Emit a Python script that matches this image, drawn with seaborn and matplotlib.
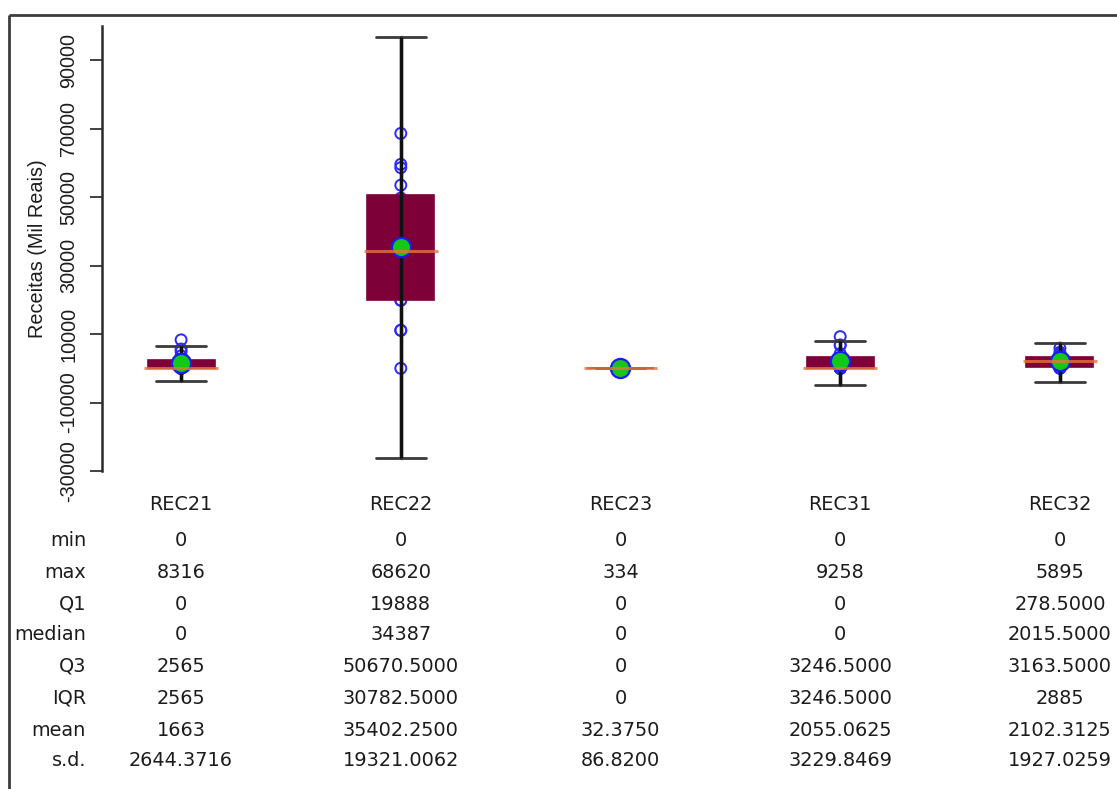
import numpy as np
import pandas as pd
import matplotlib
matplotlib.use("Agg")
import matplotlib.pyplot as plt
import matplotlib.transforms as mtransforms
from matplotlib.lines import Line2D
import seaborn as sns

# ---- data -------------------------------------------------------------
categories = ["REC21", "REC22", "REC23", "REC31", "REC32"]

rec21 = [0, 0, 0, 0, 0, 0, 0, 0, 0, 400, 1500, 2200, 3660, 4900, 5632, 8316]
rec22 = [0, 11100, 11100, 19888, 19888, 25500, 31000, 33800, 34974, 42500,
         46639, 49727, 53500, 58600, 59600, 68620]
rec23 = [0, 0, 0, 0, 0, 0, 0, 0, 0, 0, 0, 0, 0, 66, 118, 334]
rec31 = [0, 0, 0, 0, 0, 0, 0, 0, 0, 900, 2000, 2900, 4286, 6700, 6837, 9258]
rec32 = [0, 0, 60, 100, 338, 1000, 1459, 1900, 2131, 2400, 2800, 3000, 3654,
         4200, 4700, 5895]

stat_min = [0, 0, 0, 0, 0]
stat_max = [8316, 68620, 334, 9258, 5895]
stat_q1 = [0, 19888, 0, 0, 278.5]
stat_median = [0, 34387, 0, 0, 2015.5]
stat_q3 = [2565, 50670.5, 0, 3246.5, 3163.5]
stat_iqr = [2565, 30782.5, 0, 3246.5, 2885]
stat_mean = [1663, 35402.25, 32.375, 2055.0625, 2102.3125]
stat_sd = [2644.3716, 19321.0062, 86.8200, 3229.8469, 1927.0259]

y_ticks = [-30000, -10000, 10000, 30000, 50000, 70000, 90000]
y_label = "Receitas (Mil Reais)"
row_names = ["min", "max", "Q1", "median", "Q3", "IQR", "mean", "s.d."]

# ---- style ------------------------------------------------------------
sns.set_theme(style="white")
plt.rcParams["font.family"] = ["Liberation Sans", "DejaVu Sans"]
FS = 14.3
TFS = 13.9
TABLE_FONT = ["DejaVu Sans"]
TXT = "#1c1c1c"

W, H = 1117, 789
fig = plt.figure(figsize=(W / 100, H / 100), dpi=100)
fig.patch.set_facecolor("white")

# outer frame (top and left edges)
frame_kw = dict(transform=fig.transFigure, color="#3c3c3c", lw=2.0,
                solid_capstyle="butt")
fig.add_artist(Line2D([9 / W, 1.02], [1 - 15 / H, 1 - 15 / H], **frame_kw))
fig.add_artist(Line2D([9 / W, 9 / W], [-0.02, 1 - 15 / H], **frame_kw))

ax = fig.add_axes([102 / W, 1 - 471 / H, 1037 / W, 445 / H])
ax.set_facecolor("white")

positions = np.arange(len(categories))

# individual observations (drawn first, under the boxes)
pts = pd.DataFrame({
    "pos": np.repeat(positions, [len(rec21), len(rec22), len(rec23),
                                 len(rec31), len(rec32)]),
    "value": np.concatenate([rec21, rec22, rec23, rec31, rec32]),
})
sns.scatterplot(data=pts, x="pos", y="value", ax=ax, s=62, color="#2a2aff",
                linewidth=1.4, zorder=1, legend=False)
obs = ax.collections[-1]
obs.set_facecolor("none")
obs.set_edgecolor("#2a2aff")

# boxes from the summary statistics; whiskers at 1.5 * IQR
stats = []
for i, c in enumerate(categories):
    stats.append(dict(label=c, q1=stat_q1[i], med=stat_median[i],
                      q3=stat_q3[i],
                      whislo=stat_q1[i] - 1.5 * stat_iqr[i],
                      whishi=stat_q3[i] + 1.5 * stat_iqr[i],
                      fliers=[]))
box_color = "#7d0038"
ax.bxp(stats, positions=positions, widths=0.305, capwidths=0.225,
       patch_artist=True, showfliers=False, manage_ticks=False,
       boxprops=dict(facecolor=box_color, edgecolor=box_color, lw=1.2,
                     zorder=2),
       whiskerprops=dict(color="#222222", lw=2.4, zorder=3),
       capprops=dict(color="#3a3a3a", lw=2.0, zorder=3),
       medianprops=dict(lw=0))

# whisker stem drawn across the full range, over the box
los = [s["whislo"] for s in stats]
his = [s["whishi"] for s in stats]
ax.vlines(positions, los, his, colors="#111111", lw=2.4, zorder=3)

# means
sns.scatterplot(x=positions, y=stat_mean, ax=ax, s=190, color="#16c816",
                edgecolor="#1a1aff", linewidth=1.6, zorder=4, legend=False)

# medians
ax.hlines(stat_median, positions - 0.168, positions + 0.168,
          colors="#e8733a", lw=2.2, alpha=0.8, zorder=5)

# ---- axes -------------------------------------------------------------
ax.set_xlim(-0.36, 4.36)
ax.set_ylim(-30000, 100000)
ax.set_xticks([])
ax.set_yticks(y_ticks)
ax.set_yticklabels([str(t) for t in y_ticks], fontsize=FS, color=TXT)
ax.tick_params(axis="y", which="major", length=9, width=1.3,
               color="#333333", pad=8, labelrotation=90, left=True)
for lab in ax.get_yticklabels():
    lab.set_va("center")
for side in ("top", "right", "bottom"):
    ax.spines[side].set_visible(False)
ax.spines["left"].set_color("#2a2a2a")
ax.spines["left"].set_linewidth(1.8)
ax.set_xlabel("")
ax.set_ylabel(y_label, fontsize=FS, color=TXT, labelpad=9)

# ---- summary table under the plot ------------------------------------
def fmt(v):
    return str(int(v)) if float(v).is_integer() else f"{v:.4f}"

rows = [stat_min, stat_max, stat_q1, stat_median, stat_q3, stat_iqr,
        stat_mean, stat_sd]
row_y = [540, 572, 604, 634, 666, 698, 730, 761]
trans = mtransforms.blended_transform_factory(ax.transData, fig.transFigure)

for i, c in enumerate(categories):
    ax.text(positions[i], 1 - 504 / H, c, transform=trans, ha="center",
            va="center", fontsize=TFS, color=TXT, clip_on=False,
            family=TABLE_FONT)
for name, vals, y in zip(row_names, rows, row_y):
    fig.text(86 / W, 1 - y / H, name, ha="right", va="center",
             fontsize=TFS, color=TXT, family=TABLE_FONT)
    for i, v in enumerate(vals):
        ax.text(positions[i], 1 - y / H, fmt(v), transform=trans,
                ha="center", va="center", fontsize=TFS, color=TXT,
                clip_on=False, family=TABLE_FONT)

fig.savefig("out.png", dpi=100, facecolor="white")
